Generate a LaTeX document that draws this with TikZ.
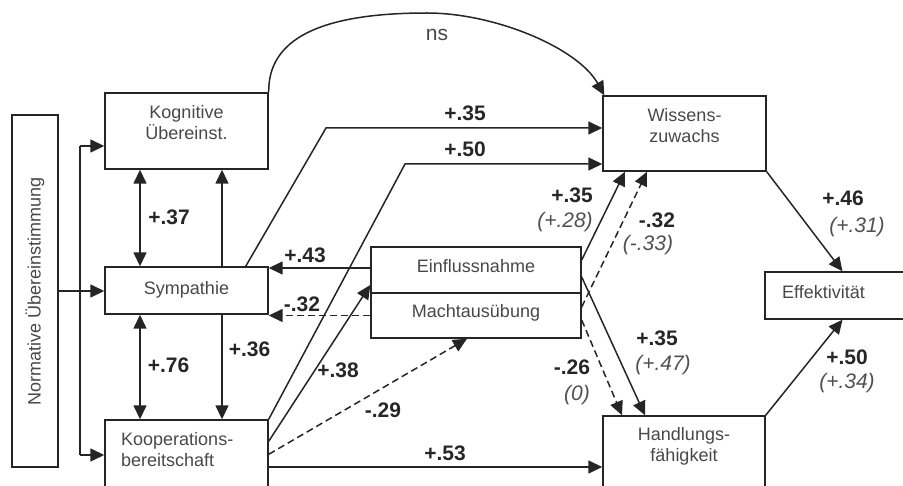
\documentclass[tikz,border=0pt]{standalone}
\usepackage{fontspec}
\setmainfont{Liberation Sans}
\usetikzlibrary{arrows.meta}
\definecolor{ln}{HTML}{252525}
\definecolor{bx}{HTML}{484848}
\definecolor{nm}{HTML}{262626}
\definecolor{it}{HTML}{505050}
\begin{document}
\begin{tikzpicture}[x=1pt,y=1pt,
  >={Triangle[length=14pt,width=13pt]},
  box/.style={draw=ln, line width=1.4pt, inner sep=0pt},
  btxt/.style={text=bx, font=\fontsize{18}{21}\selectfont, align=center, inner sep=0pt},
  con/.style={draw=ln, line width=1.5pt},
  dsh/.style={con, dash pattern=on 7pt off 4pt},
  num/.style={text=nm, font=\fontsize{21}{22}\selectfont\bfseries, inner sep=0pt},
  par/.style={text=it, font=\fontsize{21}{22}\selectfont\itshape, inner sep=0pt},
  nslab/.style={text=bx, font=\fontsize{21}{22}\selectfont, inner sep=0pt}]
\useasboundingbox (0,0) rectangle (903,-486);
\clip (0,0) rectangle (903,-486);

% boxes
\node[box, minimum width=46pt, minimum height=352pt] (norm) at (35,-291) {};
\node[btxt, rotate=90] (normt) at (35,-291) {Normative Übereinstimmung};
\node[box, minimum width=163pt, minimum height=76pt] (kog) at (186.5,-131) {};
\node[btxt] (kogt) at (186.5,-122.5) {Kognitive\\Übereinst.};
\node[box, minimum width=163pt, minimum height=47pt] (sym) at (186.5,-290.5) {};
\node[btxt] (symt) at (186.5,-289.5) {Sympathie};
\node[box, minimum width=163pt, minimum height=90pt] (koop) at (186.5,-465) {};
\node[btxt, align=left, anchor=west] (koopt) at (121,-450) {Kooperations-\\bereitschaft};
\node[box, minimum width=210pt, minimum height=46pt] (einf) at (476,-270) {};
\node[btxt] (einft) at (476,-266.5) {Einflussnahme};
\node[box, minimum width=210pt, minimum height=45pt] (macht) at (476,-315.5) {};
\node[btxt] (machtt) at (476,-312.5) {Machtausübung};
\node[box, minimum width=163pt, minimum height=75pt] (wis) at (684.5,-133.5) {};
\node[btxt] (wist) at (684.5,-125.5) {Wissens-\\zuwachs};
\node[box, minimum width=155pt, minimum height=47pt] (eff) at (842.5,-295.5) {};
\node[btxt, anchor=west] (efft) at (782,-292) {Effektivität};
\node[box, minimum width=162pt, minimum height=102pt] (hand) at (684,-467) {};
\node[btxt] (handt) at (684,-446) {Handlungs-\\fähigkeit};

% fork from Normative
\coordinate (fk) at (80,-291);
\coordinate (fa) at (80,-146);
\coordinate (fc) at (80,-455);
\draw[con] (norm.east) -- (fk);
\draw[con] (fa) -- (fc);
\draw[con,->] (fa) -- (fa -| kog.west);
\draw[con,->] (fk) -- (fk -| sym.west);
\draw[con,->] (fc) -- (fc -| koop.west);

% verticals
\draw[con,<->] ([xshift=-46.5pt]kog.south) -- ([xshift=-46.5pt]sym.north);
\draw[con,->] ([xshift=35.5pt]sym.north) -- ([xshift=35.5pt]kog.south);
\draw[con,<->] ([xshift=-46.5pt]sym.south) -- ([xshift=-46.5pt]koop.north);
\draw[con,->] ([xshift=35.5pt]sym.south) -- ([xshift=35.5pt]koop.north);

% ns arc
\draw[con,->] (kog.north east) .. controls (268,-40) and (318,-13) .. (427,-13)
  .. controls (495,-13) and (578,-48) .. ([xshift=2pt]wis.north west);

% to Wissenszuwachs
\coordinate (b1) at (326,-128);
\coordinate (b2) at (405,-164);
\draw[con,->] ([xshift=-23pt]sym.north east) -- (b1) -- (b1 -| wis.west);
\draw[con,->] (koop.north east) -- (b2) -- (b2 -| wis.west);

% Kooperation to Einfluss / Macht / Handlung
\draw[con,->] ([yshift=-22pt]koop.north east) -- ([yshift=-15pt]einf.west);
\draw[dsh,->] ([yshift=-35pt]koop.north east) -- ([xshift=-9pt]macht.south);
\draw[con,->] (hand.west -| koop.east) -- (hand.west);

% Einfluss / Macht to Sympathie
\draw[con,->] ([yshift=2pt]einf.west) -- ([yshift=2pt]einf.west -| sym.east);
\draw[dsh,->] (macht.west) -- (macht.west -| sym.east);

% Einfluss / Macht to right
\draw[con,->] ([yshift=10pt]einf.east) -- ([xshift=-59.5pt]wis.south);
\draw[dsh,->] ([yshift=8.5pt]macht.east) -- ([xshift=-37.5pt]wis.south);
\draw[con,->] ([yshift=-7pt]einf.east) -- ([xshift=-39pt]hand.north);
\draw[dsh,->] ([yshift=-4.5pt]macht.east) -- ([xshift=-62pt]hand.north);

% to Effektivitaet
\draw[con,->] (wis.south east) -- (eff.north);
\draw[con,->] (hand.north east) -- (eff.south);

% labels
\node[nslab] (lns) at (437,-35) {ns};
\node[num] (l37) at (169,-217) {+.37};
\node[num] (l76) at (168.5,-365) {+.76};
\node[num] (l36) at (249.5,-349) {+.36};
\node[num] (l35a) at (465,-113) {+.35};
\node[num] (l50a) at (465,-149) {+.50};
\node[num] (l43) at (305,-255) {+.43};
\node[num] (l32a) at (302,-304) {-.32};
\node[num] (l38) at (338,-370) {+.38};
\node[num] (l29) at (383,-410) {-.29};
\node[num] (l53) at (445,-453) {+.53};
\node[num] (l35b) at (572,-195) {+.35};
\node[par] (l28) at (565,-222) {(+.28)};
\node[num] (l32b) at (657,-220) {-.32};
\node[par] (l33) at (648,-245) {(-.33)};
\node[num] (l35c) at (657,-338) {+.35};
\node[par] (l47) at (663,-365) {(+.47)};
\node[num] (l26) at (572,-367) {-.26};
\node[par] (l0) at (577,-395) {(0)};
\node[num] (l46) at (843,-198) {+.46};
\node[par] (l31) at (857,-227) {(+.31)};
\node[num] (l50b) at (847,-357) {+.50};
\node[par] (l34) at (847,-383) {(+.34)};
\end{tikzpicture}
\end{document}
